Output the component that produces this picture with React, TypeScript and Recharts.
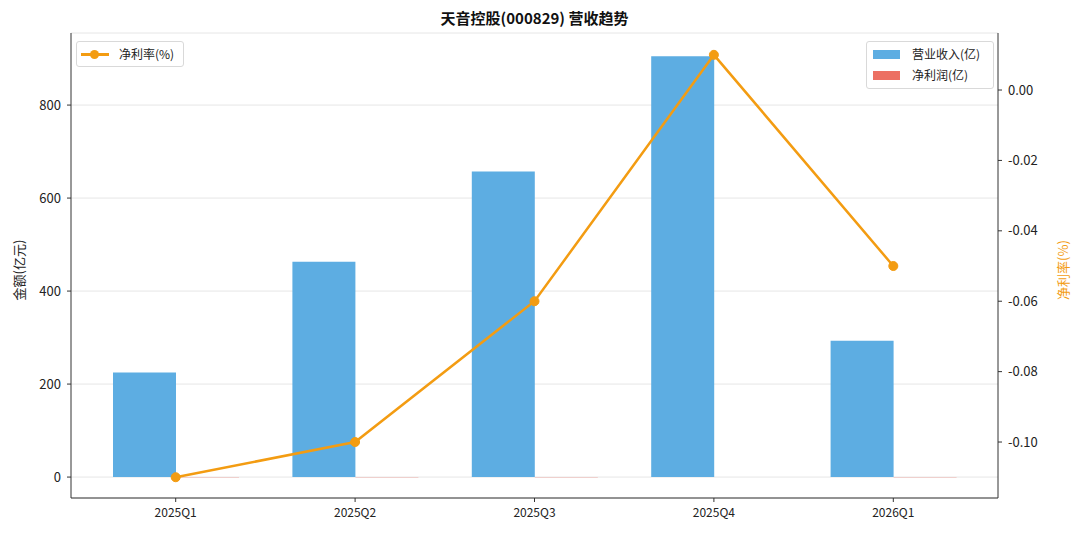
import React from 'react';
import { ComposedChart, Bar, Line, XAxis, YAxis, CartesianGrid } from 'recharts';

const quarters = ['2025Q1', '2025Q2', '2025Q3', '2025Q4', '2026Q1'];
const revenue = [225, 463, 657, 905, 293];
const netProfit = [-0.25, -0.46, -0.39, 0.09, -0.15];
const netMargin = [-0.11, -0.1, -0.06, 0.01, -0.05];

const leftTicks = [0, 200, 400, 600, 800];
const rightTicks = [-0.1, -0.08, -0.06, -0.04, -0.02, 0];

const BLUE = '#5DADE2';
const RED = '#EC7063';
const ORANGE = '#F39C12';
const FONT = '"Noto Sans CJK SC", "Noto Sans", sans-serif';

const data = quarters.map((q, i) => ({
  name: q,
  revenue: revenue[i],
  profit: netProfit[i],
  margin: netMargin[i],
}));

const legendBox: React.CSSProperties = {
  position: 'absolute',
  background: 'rgba(255,255,255,0.85)',
  border: '1px solid #d9d9d9',
  borderRadius: 3,
  fontSize: 12,
  color: '#222',
  boxSizing: 'border-box',
};

export default function App() {
  return (
    <div style={{ position: 'absolute', left: 0, top: 0, width: 1080, height: 535, background: '#fff', fontFamily: FONT }}>
      <ComposedChart
        width={1080}
        height={535}
        data={data}
        margin={{ top: 33, right: 0, bottom: 7, left: 0 }}
        barGap={0}
      >
        <CartesianGrid vertical={false} stroke="#e6e6e6" yAxisId="left" />
        <XAxis
          dataKey="name"
          height={30}
          padding={{ left: 15, right: 15 }}
          tickSize={4}
          tickMargin={6}
          stroke="#333"
          tick={{ fontSize: 12, fill: '#222', fontFamily: FONT }}
        />
        <XAxis xAxisId="top" orientation="top" dataKey="name" height={0} tick={false} tickLine={false} stroke="#333" />
        <YAxis
          yAxisId="left"
          width={71}
          domain={[-45, 955]}
          ticks={leftTicks}
          tickSize={4}
          tickMargin={6}
          stroke="#333"
          tick={{ fontSize: 13, fill: '#222', fontFamily: FONT }}
        />
        <YAxis
          yAxisId="right"
          orientation="right"
          width={82}
          domain={[-0.1159, 0.0162]}
          ticks={rightTicks}
          tickFormatter={(v: number) => v.toFixed(2)}
          tickSize={4}
          tickMargin={6}
          stroke="#333"
          tick={{ fontSize: 13, fill: '#222', fontFamily: FONT }}
        />
        <Bar yAxisId="left" dataKey="revenue" fill={BLUE} barSize={63} isAnimationActive={false} />
        <Bar yAxisId="left" dataKey="profit" fill={RED} barSize={63} isAnimationActive={false} />
        <Line
          yAxisId="right"
          dataKey="margin"
          stroke={ORANGE}
          strokeWidth={2.5}
          dot={{ r: 4.5, fill: ORANGE, stroke: ORANGE, strokeWidth: 1 }}
          isAnimationActive={false}
        />
      </ComposedChart>

      <div style={{ position: 'absolute', left: 71, width: 927, top: 7, textAlign: 'center', fontWeight: 'bold', fontSize: 15, color: '#111' }}>
        天音控股(000829) 营收趋势
      </div>

      <div style={{ position: 'absolute', left: 18, top: 270, transform: 'translate(-50%, -50%) rotate(-90deg)', fontSize: 13, color: '#222', whiteSpace: 'nowrap' }}>
        金额(亿元)
      </div>
      <div style={{ position: 'absolute', left: 1062, top: 270, transform: 'translate(-50%, -50%) rotate(-90deg)', fontSize: 13, color: ORANGE, whiteSpace: 'nowrap' }}>
        净利率(%)
      </div>

      <div style={{ ...legendBox, left: 76, top: 41, width: 108, height: 26 }}>
        <div style={{ position: 'absolute', left: 4, top: 11, width: 28, height: 2.5, background: ORANGE }} />
        <div style={{ position: 'absolute', left: 13, top: 7.5, width: 9, height: 9, borderRadius: '50%', background: ORANGE }} />
        <div style={{ position: 'absolute', left: 42, top: 4, lineHeight: '16px' }}>净利率(%)</div>
      </div>

      <div style={{ ...legendBox, left: 866, top: 41, width: 128, height: 48 }}>
        <div style={{ position: 'absolute', left: 6, top: 8, width: 27, height: 9, background: BLUE }} />
        <div style={{ position: 'absolute', left: 45, top: 4, lineHeight: '16px' }}>营业收入(亿)</div>
        <div style={{ position: 'absolute', left: 6, top: 29, width: 27, height: 9, background: RED }} />
        <div style={{ position: 'absolute', left: 45, top: 25, lineHeight: '16px' }}>净利润(亿)</div>
      </div>
    </div>
  );
}
